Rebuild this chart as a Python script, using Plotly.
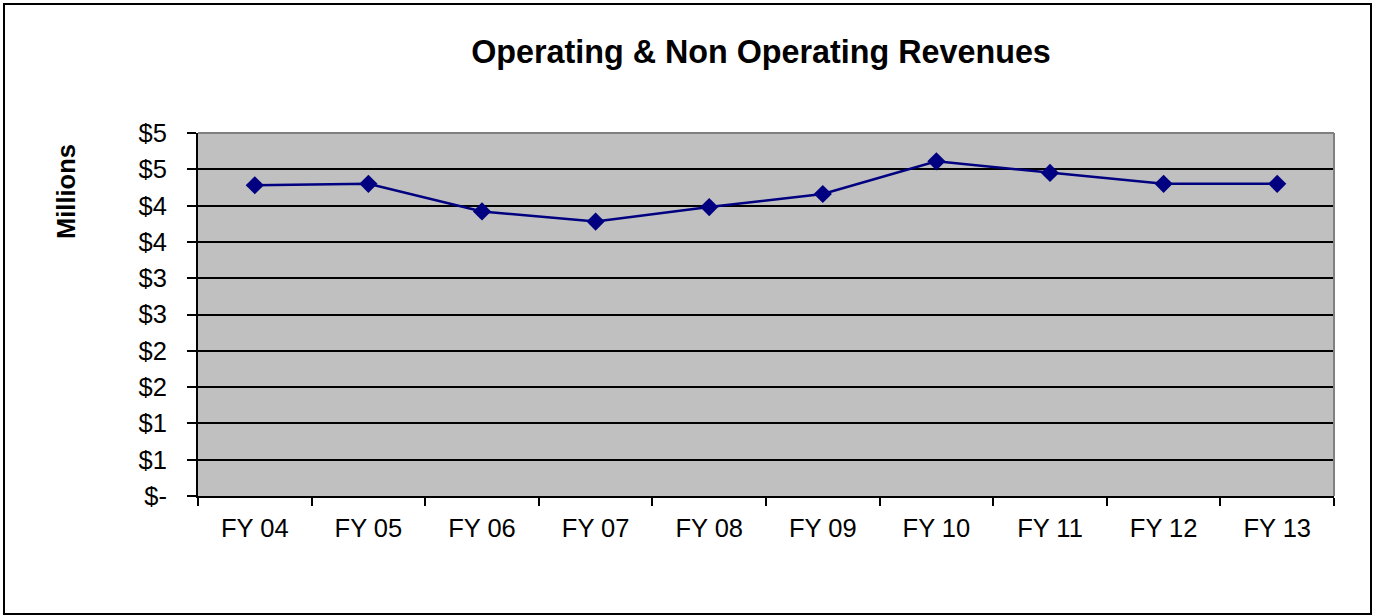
import plotly.graph_objects as go

categories = ["FY 04", "FY 05", "FY 06", "FY 07", "FY 08", "FY 09", "FY 10", "FY 11", "FY 12", "FY 13"]
revenues = [4.28, 4.30, 3.92, 3.78, 3.98, 4.16, 4.61, 4.45, 4.30, 4.30]
y_tickvals = [0, 0.5, 1, 1.5, 2, 2.5, 3, 3.5, 4, 4.5, 5]
y_ticktext = ["$-", "$1", "$1", "$2", "$2", "$3", "$3", "$4", "$4", "$5", "$5"]

FONT = "Arial, Liberation Sans, sans-serif"

fig = go.Figure()
fig.add_trace(go.Scatter(
    x=categories, y=revenues, mode="lines+markers",
    line=dict(color="#000080", width=2.5),
    marker=dict(symbol="diamond", size=14, color="#000080"),
    showlegend=False,
))

L, R, T, B = 198, 44, 133, 120
W, H = 1378, 616
pw, ph = W - L - R, H - T - B

def px_x(p):
    return (p - L) / pw

def px_y(p):
    return (H - B - p) / ph

fig.update_layout(
    width=W, height=H,
    margin=dict(l=L, r=R, t=T, b=B),
    paper_bgcolor="white", plot_bgcolor="#C0C0C0",
    font=dict(family=FONT, size=25, color="black"),
    title=dict(text="<b>Operating & Non Operating Revenues</b>",
               font=dict(size=32.3, family=FONT, color="black"),
               x=px_x(761), xref="paper", xanchor="center",
               y=1 - 52 / H, yref="container", yanchor="middle"),
    xaxis=dict(type="category", range=[-0.5, 9.5], tickson="boundaries",
               ticks="outside", ticklen=8, tickwidth=2, tickcolor="black",
               showline=True, linecolor="black", linewidth=2,
               showgrid=False, tickfont=dict(size=25.5), ticklabelstandoff=8),
    yaxis=dict(range=[0, 5], tickvals=y_tickvals, ticktext=y_ticktext,
               ticks="outside", ticklen=9, tickwidth=2, tickcolor="black",
               showline=True, linecolor="black", linewidth=2,
               showgrid=True, gridcolor="black", gridwidth=2,
               zeroline=False, tickfont=dict(size=25.5), ticklabelstandoff=15),
    annotations=[dict(text="<b>Millions</b>", textangle=-90,
                      xref="paper", yref="paper", x=px_x(66), y=px_y(192),
                      xanchor="center", yanchor="middle", showarrow=False,
                      font=dict(size=25.5, family=FONT, color="black"))],
    shapes=[
        dict(type="line", xref="paper", yref="paper", x0=0, x1=1, y0=1, y1=1,
             line=dict(color="#808080", width=2), layer="above"),
        dict(type="line", xref="paper", yref="paper", x0=1, x1=1, y0=0, y1=1,
             line=dict(color="#808080", width=2), layer="above"),
        dict(type="rect", xref="paper", yref="paper",
             x0=px_x(4), x1=px_x(1371), y0=px_y(614), y1=px_y(4),
             line=dict(color="black", width=2), fillcolor="rgba(0,0,0,0)"),
    ],
)

fig.write_html("out.html", config={"displayModeBar": False},
               post_script="document.body.style.margin='0';document.body.style.overflow='hidden';")
